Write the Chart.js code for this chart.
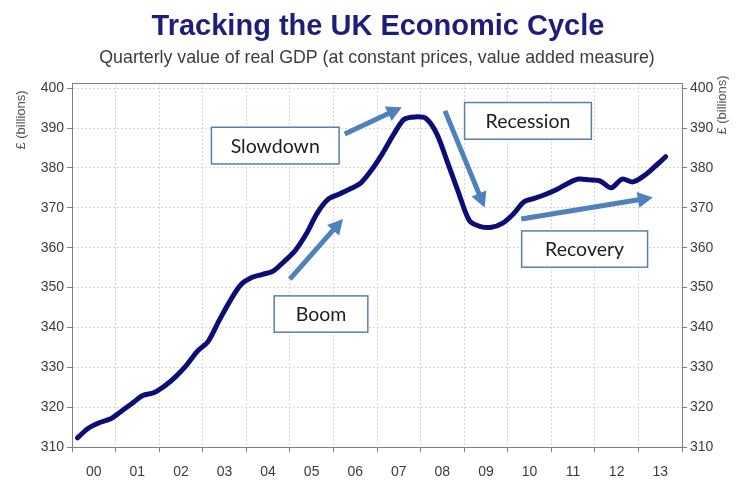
<!DOCTYPE html>
<html>
<head>
<meta charset="utf-8">
<title>Tracking the UK Economic Cycle</title>
<script src="https://cdn.jsdelivr.net/npm/chart.js@4.4.0/dist/chart.umd.min.js"></script>
<style>
  html, body { margin: 0; padding: 0; background: #ffffff; }
  #wrap { width: 738px; height: 481px; }
</style>
</head>
<body>
<div id="wrap"><canvas id="gdpChart" width="738" height="481"></canvas></div>
<script>
// Quarterly real GDP, £ billions (constant prices, value added measure)
const quarters = [
  '2000 Q1', '2000 Q2', '2000 Q3', '2000 Q4', '2001 Q1', '2001 Q2', '2001 Q3', '2001 Q4',
  '2002 Q1', '2002 Q2', '2002 Q3', '2002 Q4', '2003 Q1', '2003 Q2', '2003 Q3', '2003 Q4',
  '2004 Q1', '2004 Q2', '2004 Q3', '2004 Q4', '2005 Q1', '2005 Q2', '2005 Q3', '2005 Q4',
  '2006 Q1', '2006 Q2', '2006 Q3', '2006 Q4', '2007 Q1', '2007 Q2', '2007 Q3', '2007 Q4',
  '2008 Q1', '2008 Q2', '2008 Q3', '2008 Q4', '2009 Q1', '2009 Q2', '2009 Q3', '2009 Q4',
  '2010 Q1', '2010 Q2', '2010 Q3', '2010 Q4', '2011 Q1', '2011 Q2', '2011 Q3', '2011 Q4',
  '2012 Q1', '2012 Q2', '2012 Q3', '2012 Q4', '2013 Q1', '2013 Q2', '2013 Q3'
];
const gdp = [
  312.3, 314.7, 316.1, 317.0, 318.9, 320.9, 322.9, 323.6,
  325.3, 327.6, 330.5, 334.0, 336.5, 341.7, 346.6, 350.7,
  352.5, 353.3, 354.2, 356.6, 359.3, 363.4, 368.6, 372.1,
  373.4, 374.7, 376.2, 379.5, 383.6, 388.3, 392.2, 392.8,
  392.4, 388.5, 381.2, 373.7, 366.7, 365.3, 365.1, 366.1,
  368.4, 371.5, 372.4, 373.4, 374.6, 376.1, 377.2, 377.0,
  376.7, 375.0, 377.2, 376.5, 378.0, 380.3, 382.8
];
const yearLabels = ['00', '01', '02', '03', '04', '05', '06', '07', '08', '09', '10', '11', '12', '13'];
const yTicks = [310, 320, 330, 340, 350, 360, 370, 380, 390, 400];

// phase labels, placed in axis units (years since 2000, £bn)
const phases = [
  { text: 'Slowdown',  box: [3.20, 390.2, 6.13, 381.0],  arrow: [6.26, 388.5, 7.57, 395.2] },
  { text: 'Boom',      box: [4.64, 347.9, 6.79, 338.8],  arrow: [5.00, 352.1, 6.22, 367.2] },
  { text: 'Recession', box: [9.01, 396.4, 11.92, 387.2], arrow: [8.56, 394.3, 9.47, 370.1] },
  { text: 'Recovery',  box: [10.32, 364.2, 13.21, 355.1], arrow: [10.31, 367.2, 13.33, 372.6] }
];

const startYear = 2000;
const points = quarters.map((q, i) => {
  const [yr, qq] = q.split(' Q').map(Number);
  return { x: (yr - startYear) + (qq - 0.5) / 4, y: gdp[i] };
});

const FONT = '"Liberation Sans", Arial, sans-serif';
const AXIS_GREY = '#808080';
const ARROW_BLUE = '#4f81bd';

function drawArrow(ctx, x0, y0, x1, y1) {
  const ang = Math.atan2(y1 - y0, x1 - x0);
  const headLen = 15, headHalf = 8;
  const bx = x1 - Math.cos(ang) * headLen;
  const by = y1 - Math.sin(ang) * headLen;
  ctx.strokeStyle = ARROW_BLUE;
  ctx.lineWidth = 5;
  ctx.lineCap = 'butt';
  ctx.beginPath();
  ctx.moveTo(x0, y0);
  ctx.lineTo(bx + Math.cos(ang) * 2, by + Math.sin(ang) * 2);
  ctx.stroke();
  ctx.fillStyle = ARROW_BLUE;
  ctx.beginPath();
  ctx.moveTo(x1, y1);
  ctx.lineTo(bx + Math.sin(ang) * headHalf, by - Math.cos(ang) * headHalf);
  ctx.lineTo(bx - Math.sin(ang) * headHalf, by + Math.cos(ang) * headHalf);
  ctx.closePath();
  ctx.fill();
}

const decorations = {
  id: 'decorations',
  afterDraw(chart) {
    const { ctx, chartArea: area, scales: { x, y } } = chart;
    ctx.save();

    // close the plot frame along the top
    ctx.strokeStyle = AXIS_GREY;
    ctx.lineWidth = 1;
    ctx.beginPath();
    ctx.moveTo(area.left, area.top + 0.5);
    ctx.lineTo(area.right, area.top + 0.5);
    ctx.stroke();

    // headings
    ctx.textAlign = 'center';
    ctx.textBaseline = 'middle';
    ctx.fillStyle = '#1c1f7a';
    ctx.font = 'bold 29px ' + FONT;
    ctx.fillText('Tracking the UK Economic Cycle', 378, 27);
    ctx.fillStyle = '#3c3c3c';
    ctx.font = '17.8px ' + FONT;
    ctx.fillText('Quarterly value of real GDP (at constant prices, value added measure)', 377, 58);

    // axis titles on both sides
    ctx.font = '13px ' + FONT;
    ctx.fillStyle = '#555555';
    [[21, 120], [722, 105]].forEach(([tx, ty]) => {
      ctx.save();
      ctx.translate(tx, ty);
      ctx.rotate(-Math.PI / 2);
      ctx.fillText('£ (billions)', 0, 0);
      ctx.restore();
    });

    // phase boxes and arrows
    phases.forEach(p => {
      const [ax0, ay0, ax1, ay1] = p.arrow;
      drawArrow(ctx, x.getPixelForValue(ax0), y.getPixelForValue(ay0),
                x.getPixelForValue(ax1), y.getPixelForValue(ay1));
      const [bx0, by0, bx1, by1] = p.box;
      const l = x.getPixelForValue(bx0), r = x.getPixelForValue(bx1);
      const t = y.getPixelForValue(by0), b = y.getPixelForValue(by1);
      ctx.fillStyle = '#ffffff';
      ctx.fillRect(l, t, r - l, b - t);
      ctx.strokeStyle = '#5a7fae';
      ctx.lineWidth = 1.5;
      ctx.strokeRect(l, t, r - l, b - t);
      ctx.fillStyle = '#1e1e1e';
      ctx.font = '19.5px Lato, "Open Sans", sans-serif';
      ctx.fillText(p.text, (l + r) / 2, (t + b) / 2 + 1);
    });

    ctx.restore();
  }
};

const sideTicks = {
  color: '#3c3c3c',
  font: { family: FONT, size: 14 },
  stepSize: 10,
  includeBounds: false,
  padding: 3,
  callback: v => (yTicks.includes(v) ? v : '')
};

new Chart(document.getElementById('gdpChart'), {
  type: 'line',
  data: {
    datasets: [{
      label: 'Real GDP',
      data: points,
      borderColor: '#0d0d78',
      borderWidth: 5,
      pointRadius: 0,
      tension: 0.3,
      borderCapStyle: 'round',
      borderJoinStyle: 'round',
      fill: false
    }]
  },
  options: {
    responsive: false,
    animation: false,
    layout: { padding: { top: 83, left: 0, right: 0, bottom: 0 } },
    plugins: {
      legend: { display: false },
      tooltip: { enabled: false }
    },
    scales: {
      x: {
        type: 'linear',
        min: 0,
        max: 14,
        afterFit: s => { s.height = 34; },
        grid: { color: '#d6d6d6', tickLength: 5, tickColor: AXIS_GREY, tickBorderDash: [] },
        border: { color: AXIS_GREY, width: 1, dash: [2, 2] },
        ticks: {
          stepSize: 1,
          autoSkip: false,
          maxRotation: 0,
          labelOffset: 21.8,
          padding: 12,
          color: '#3c3c3c',
          font: { family: FONT, size: 14 },
          callback: v => yearLabels[v] ?? ''
        }
      },
      y: {
        position: 'left',
        min: 310,
        max: 401.3,
        afterFit: s => { s.width = 72; },
        grid: { color: '#d6d6d6', tickLength: 5, tickColor: AXIS_GREY, tickBorderDash: [] },
        border: { color: AXIS_GREY, width: 1, dash: [2, 2] },
        ticks: sideTicks
      },
      y2: {
        position: 'right',
        min: 310,
        max: 401.3,
        afterFit: s => { s.width = 56; },
        grid: { drawOnChartArea: false, tickLength: 5, tickColor: AXIS_GREY, tickBorderDash: [] },
        border: { color: AXIS_GREY, width: 1 },
        ticks: sideTicks
      }
    }
  },
  plugins: [decorations]
});
</script>
</body>
</html>
